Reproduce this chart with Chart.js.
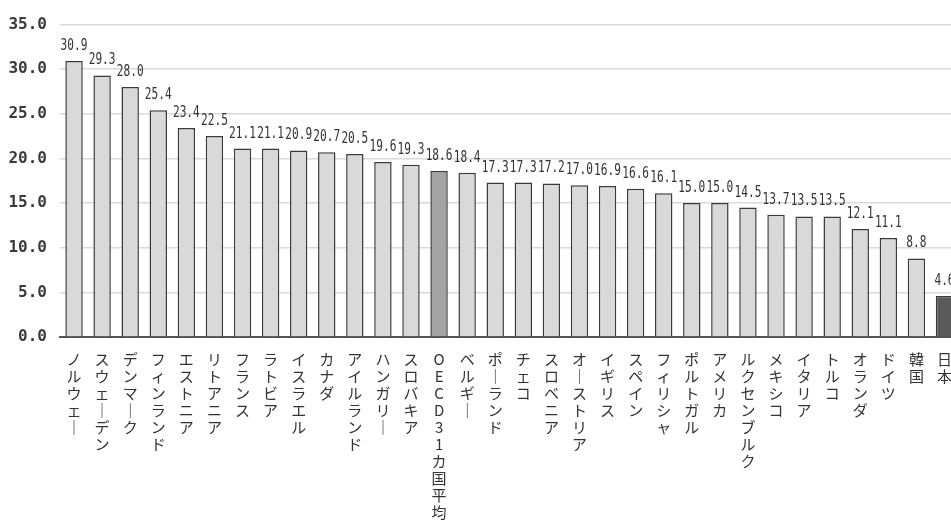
<!DOCTYPE html>
<html><head><meta charset="utf-8">
<script src="https://cdn.jsdelivr.net/npm/chart.js@4/dist/chart.umd.min.js"></script>
<style>
html,body{margin:0;padding:0;background:#fff;overflow:hidden}
#wrap{position:absolute;left:0;top:0;width:966px;height:540px}
</style>
</head><body><div id="wrap"><canvas id="c"></canvas></div>
<script>
const categories = ['ノルウェー','スウェーデン','デンマーク','フィンランド','エストニア','リトアニア','フランス','ラトビア','イスラエル','カナダ','アイルランド','ハンガリー','スロバキア','OECD31カ国平均','ベルギー','ポーランド','チェコ','スロベニア','オーストリア','イギリス','スペイン','フィリシャ','ポルトガル','アメリカ','ルクセンブルク','メキシコ','イタリア','トルコ','オランダ','ドイツ','韓国','日本'];
const values = [30.9,29.3,28.0,25.4,23.4,22.5,21.1,21.1,20.9,20.7,20.5,19.6,19.3,18.6,18.4,17.3,17.3,17.2,17.0,16.9,16.6,16.1,15.0,15.0,14.5,13.7,13.5,13.5,12.1,11.1,8.8,4.6];
const averageCategory = 'OECD31カ国平均';
const japanCategory = '日本';
const yTickLabels = ['0.0','5.0','10.0','15.0','20.0','25.0','30.0','35.0'];
const yMin = 0, yMax = 35, yStep = 5;

const toVertical = s => Array.from(s).map(ch => ch === 'ー' ? '｜' : ch);
const barColors = categories.map(c => c === averageCategory ? '#a3a3a3' : (c === japanCategory ? '#5a5a5a' : '#d9d9d9'));

const valueLabels = {
  id: 'valueLabels',
  afterDatasetsDraw(chart) {
    const ctx = chart.ctx;
    const meta = chart.getDatasetMeta(0);
    ctx.save();
    ctx.fillStyle = '#333';
    ctx.font = '15.5px "DejaVu Sans Mono"';
    ctx.textAlign = 'center';
    ctx.textBaseline = 'alphabetic';
    meta.data.forEach((el, i) => {
      ctx.save();
      ctx.translate(el.x, el.y - 11);
      ctx.scale(0.72, 1);
      ctx.fillText(values[i].toFixed(1), 0, 0);
      ctx.restore();
    });
    ctx.restore();
  }
};

new Chart(document.getElementById('c'), {
  type: 'bar',
  data: {
    labels: categories.map(toVertical),
    datasets: [{
      data: values,
      backgroundColor: barColors,
      borderColor: '#3a3a3a',
      borderWidth: 1.5,
      barPercentage: 0.62,
      categoryPercentage: 1.0
    }]
  },
  options: {
    responsive: true,
    maintainAspectRatio: false,
    animation: false,
    layout: { padding: { top: 24.5, right: 0, left: 0, bottom: 0 } },
    plugins: { legend: { display: false }, tooltip: { enabled: false } },
    scales: {
      x: {
        grid: { display: false, drawTicks: false },
        border: { display: true, color: '#555', width: 2 },
        ticks: {
          autoSkip: false, maxRotation: 0, minRotation: 0, padding: 14,
          color: '#333',
          font: { family: '"Noto Sans CJK JP"', size: 15, lineHeight: '17px' }
        },
        afterFit(scale) { scale.height = 540 - 337; }
      },
      y: {
        min: yMin, max: yMax,
        grid: { color: '#d9d9d9', lineWidth: 1.5, drawTicks: false },
        border: { display: false },
        ticks: {
          stepSize: yStep, padding: 13, color: '#3a3a3a',
          font: { family: '"DejaVu Sans Mono"', size: 16, weight: 'bold' },
          callback: (v) => yTickLabels[Math.round((v - yMin) / yStep)]
        },
        afterFit(scale) { scale.width = 60; }
      }
    }
  },
  plugins: [valueLabels]
});
</script>
</body></html>
